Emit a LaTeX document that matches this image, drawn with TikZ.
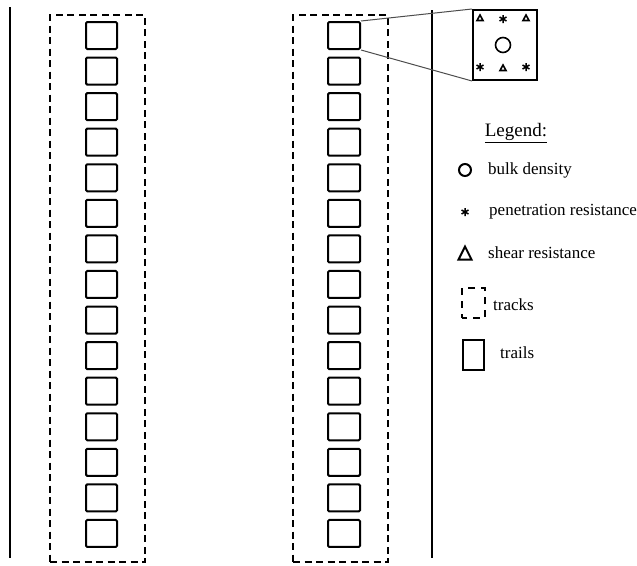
\documentclass[tikz,border=0pt]{standalone}
\usepackage{fontspec}
\setmainfont{Liberation Serif}
\begin{document}
\begin{tikzpicture}[x=1pt,y=-1pt,
  trailbox/.style={draw, line width=2pt, rounded corners=1.2pt, minimum width=31pt, minimum height=27pt, inner sep=0pt},
  trackbox/.style={draw, line width=2pt, dash pattern=on 7pt off 4.5pt, inner sep=0pt},
  road/.style={line width=2.6pt},
  lbl/.style={anchor=west, inner sep=0pt, font=\fontsize{17}{20}\selectfont},
]
\useasboundingbox (0,0) rectangle (637,565);
% roads
\coordinate (rl1) at (10,7); \coordinate (rl2) at (10,558);
\coordinate (rr1) at (432,10); \coordinate (rr2) at (432,558);
\draw[road] (rl1) -- (rl2);
\draw[road] (rr1) -- (rr2);
% tracks
\node[trackbox, minimum width=95pt, minimum height=547pt] (trackL) at (97.5,288.5) {};
\node[trackbox, minimum width=95pt, minimum height=547pt] (trackR) at (340.5,288.5) {};
% trails
\foreach \i in {0,...,14} {
  \node[trailbox] (sL\i) at (101.5,{35.5+35.57*\i}) {};
  \node[trailbox, minimum width=32pt] (sR\i) at (344,{35.5+35.57*\i}) {};
}
% inset
\node[draw, line width=2pt, minimum width=64pt, minimum height=70pt, inner sep=0pt] (inset) at (505,45) {};
\draw[line width=1pt, black!70] (sR0.north east) -- (inset.north west);
\draw[line width=1pt, black!70] (sR0.south east) -- (inset.south west);
% inset marks
\tikzset{
  tri/.pic={\draw[line width=1.6pt, line join=miter] (-3,2.5) -- (3,2.5) -- (0,-3) -- cycle;},
  ast/.pic={\draw[line width=1.5pt] (0,-4) -- (0,4) (-3.5,-2) -- (3.5,2) (-3.5,2) -- (3.5,-2);},
  bigtri/.pic={\draw[line width=2pt, line join=miter] (-6.5,6.5) -- (6.5,6.5) -- (0,-6.5) -- cycle;}
}
\pic at (480,18) {tri};
\pic at (503,19) {ast};
\pic at (526,18) {tri};
\node[circle, draw, line width=1.6pt, minimum size=15pt, inner sep=0pt] (incircle) at (503,45) {};
\pic at (480,67) {ast};
\pic at (503,68) {tri};
\pic at (526,67) {ast};
% legend
\node[anchor=center, inner sep=0pt, font=\fontsize{19}{22}\selectfont] (legend) at (516,133) {\underline{Legend:}};
\node[circle, draw, line width=2pt, minimum size=12pt, inner sep=0pt] (lcircle) at (465,170) {};
\node[lbl] (tbulk) at (488,170) {bulk density};
\pic at (465,212) {ast};
\node[lbl] (tpen) at (489,212) {penetration resistance};
\pic at (465,253) {bigtri};
\node[lbl] (tshear) at (488,253) {shear resistance};
\node[draw, line width=2pt, dash pattern=on 7pt off 6pt, dash phase=2pt, minimum width=23pt, minimum height=30pt, inner sep=0pt] (ltrack) at (473.5,303) {};
\node[lbl] (ttracks) at (493,305) {tracks};
\node[draw, line width=2pt, minimum width=21pt, minimum height=30pt, inner sep=0pt] (ltrail) at (473.5,355) {};
\node[lbl] (ttrails) at (500,353) {trails};
\end{tikzpicture}
\end{document}
